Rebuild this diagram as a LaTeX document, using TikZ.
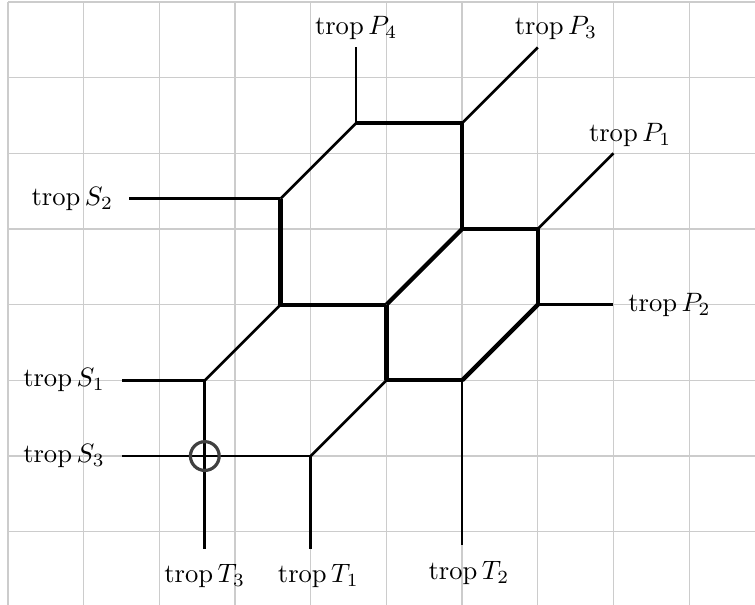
\documentclass[tikz,border=0pt]{standalone}
\usepackage{amsmath}
\begin{document}
\begin{tikzpicture}[x=1cm,y=1cm,
  gridline/.style={draw=black!20, line width=0.5pt},
  edge/.style={draw=black, line width=1pt},
  bold/.style={draw=black, line width=1.6pt},
  lbl/.style={inner sep=0pt},
  mark circle/.style={draw=black!75, line width=1.2pt}]
\useasboundingbox (-0.106,0.034) rectangle (9.87,8.026);
\begin{scope}
\clip (-0.106,0.034) rectangle (9.87,8.026);
\draw[gridline] (0,-1) grid (11,8);
\end{scope}
% vertices
\coordinate (a) at (4.6,6.4);
\coordinate (b) at (6,6.4);
\coordinate (c) at (3.6,5.4);
\coordinate (d) at (6,5);
\coordinate (e) at (7,5);
\coordinate (f) at (3.6,4);
\coordinate (g) at (5,4);
\coordinate (h) at (7,4);
\coordinate (i) at (2.6,3);
\coordinate (j) at (5,3);
\coordinate (k) at (6,3);
\coordinate (l) at (4,2);
\coordinate (x) at (2.6,2);
% ray ends
\coordinate (p4) at (4.6,7.4);
\coordinate (p3) at (7,7.4);
\coordinate (p1) at (8,6);
\coordinate (p2) at (8,4);
\coordinate (s2) at (1.6,5.4);
\coordinate (s1) at (1.5,3);
\coordinate (s3) at (1.5,2);
\coordinate (t3) at (2.6,0.77);
\coordinate (t1) at (4,0.77);
\coordinate (t2) at (6,0.82);
% thick edges
\draw[bold] (a) -- (b);
\draw[bold] (c) -- (f);
\draw[bold] (b) -- (d);
\draw[bold] (d) -- (e);
\draw[bold] (e) -- (h);
\draw[bold] (f) -- (g);
\draw[bold] (g) -- (d);
\draw[bold] (g) -- (j);
\draw[bold] (j) -- (k);
\draw[bold] (k) -- (h);
% thin edges
\draw[edge] (c) -- (a);
\draw[edge] (f) -- (i);
\draw[edge] (l) -- (j);
\draw[edge] (a) -- (p4);
\draw[edge] (b) -- (p3);
\draw[edge] (e) -- (p1);
\draw[edge] (h) -- (p2);
\draw[edge] (c) -- (s2);
\draw[edge] (i) -- (s1);
\draw[edge] (l) -- (s3);
\draw[edge] (i) -- (t3);
\draw[edge] (l) -- (t1);
\draw[edge] (k) -- (t2);
\draw[mark circle] (x) circle (0.19);
% labels
\node[lbl] (lp4) at (4.6,7.66) {$\operatorname{trop} P_4$};
\node[lbl] (lp3) at (7.24,7.66) {$\operatorname{trop} P_3$};
\node[lbl] (lp1) at (8.22,6.24) {$\operatorname{trop} P_1$};
\node[lbl] (lp2) at (8.74,4) {$\operatorname{trop} P_2$};
\node[lbl] (ls2) at (0.85,5.4) {$\operatorname{trop} S_2$};
\node[lbl] (ls1) at (0.74,3) {$\operatorname{trop} S_1$};
\node[lbl] (ls3) at (0.74,2) {$\operatorname{trop} S_3$};
\node[lbl] (lt3) at (2.6,0.41) {$\operatorname{trop} T_3$};
\node[lbl] (lt1) at (4.1,0.41) {$\operatorname{trop} T_1$};
\node[lbl] (lt2) at (6.09,0.46) {$\operatorname{trop} T_2$};
\end{tikzpicture}
\end{document}
